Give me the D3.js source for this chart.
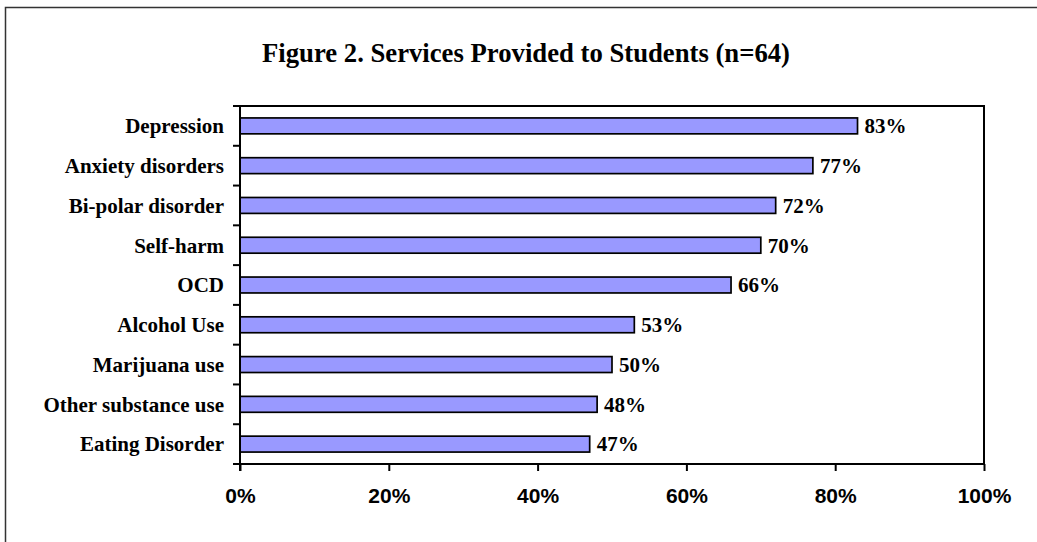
<!DOCTYPE html>
<html>
<head>
<meta charset="utf-8">
<script src="https://cdn.jsdelivr.net/npm/d3@7/dist/d3.min.js"></script>
<style>
  html, body { margin: 0; padding: 0; background: #fff; }
  svg { display: block; }
</style>
</head>
<body>
<svg id="chart" width="1037" height="542"></svg>
<script>
// Services provided to students, share of respondents (n=64)
const categories = [
  "Depression", "Anxiety disorders", "Bi-polar disorder", "Self-harm", "OCD",
  "Alcohol Use", "Marijuana use", "Other substance use", "Eating Disorder"
];
const percentages = [83, 77, 72, 70, 66, 53, 50, 48, 47];
const xTicks = [0, 20, 40, 60, 80, 100];
const chartTitle = "Figure 2. Services Provided to Students (n=64)";

const svg = d3.select("#chart");
const W = 1037, H = 542;
const serif = "'Liberation Serif', 'Times New Roman', serif";
const sans = "'Liberation Sans', Arial, sans-serif";

// Outer frame
svg.append("rect")
  .attr("x", 5.5).attr("y", 7.5)
  .attr("width", W + 20).attr("height", H + 20)
  .attr("fill", "#fff").attr("stroke", "#333").attr("stroke-width", 1.5);

const plot = { left: 240, right: 984, top: 106, bottom: 464 };

const x = d3.scaleLinear().domain([0, 100]).range([plot.left, plot.right]);
const y = d3.scaleBand().domain(categories).range([plot.top, plot.bottom]).paddingInner(0.6).paddingOuter(0.3);
const yEdges = d3.scaleLinear().domain([0, categories.length]).range([plot.top, plot.bottom]);

// Title
svg.append("text")
  .attr("x", 526).attr("y", 62)
  .attr("text-anchor", "middle")
  .attr("font-family", serif)
  .attr("font-weight", "bold").attr("font-size", 26.7)
  .text(chartTitle);

// Bars
svg.append("g").selectAll("rect")
  .data(categories)
  .join("rect")
  .attr("x", x(0))
  .attr("y", d => y(d))
  .attr("width", (d, i) => x(percentages[i]) - x(0))
  .attr("height", y.bandwidth())
  .attr("fill", "#9999FF")
  .attr("stroke", "#000").attr("stroke-width", 1.7);

// Value labels
svg.append("g").selectAll("text")
  .data(categories)
  .join("text")
  .attr("x", (d, i) => x(percentages[i]) + 7)
  .attr("y", d => y(d) + y.bandwidth() / 2)
  .attr("dy", "0.35em")
  .attr("font-family", serif)
  .attr("font-weight", "bold").attr("font-size", 21)
  .text((d, i) => percentages[i] + "%");

// Plot frame (top and right)
svg.append("path")
  .attr("d", `M${plot.left},${plot.top}H${plot.right}V${plot.bottom}`)
  .attr("fill", "none").attr("stroke", "#000").attr("stroke-width", 2);

// X axis
const xAxis = svg.append("g")
  .attr("transform", `translate(0,${plot.bottom})`)
  .call(d3.axisBottom(x).tickValues(xTicks).tickSize(7).tickPadding(0).tickFormat(d => d + "%"));
xAxis.select(".domain").attr("stroke", "#000").attr("stroke-width", 2).attr("d", `M${plot.left},0H${plot.right}`);
xAxis.selectAll(".tick line").attr("stroke", "#000").attr("stroke-width", 2);
xAxis.selectAll(".tick text")
  .attr("y", 39).attr("dy", null)
  .attr("font-family", sans)
  .attr("font-weight", "bold").attr("font-size", 21).attr("fill", "#000");

// Y axis: ticks sit on the category boundaries
const yAxis = svg.append("g").attr("transform", `translate(${plot.left},0)`);
yAxis.append("line")
  .attr("x1", 0).attr("x2", 0).attr("y1", plot.top).attr("y2", plot.bottom + 7)
  .attr("stroke", "#000").attr("stroke-width", 2);
yAxis.selectAll("line.tick")
  .data(d3.range(categories.length + 1))
  .join("line")
  .attr("class", "tick")
  .attr("x1", -7).attr("x2", 0)
  .attr("y1", d => yEdges(d)).attr("y2", d => yEdges(d))
  .attr("stroke", "#000").attr("stroke-width", 2);
yAxis.selectAll("text")
  .data(categories)
  .join("text")
  .attr("x", -16)
  .attr("y", d => y(d) + y.bandwidth() / 2)
  .attr("dy", "0.35em")
  .attr("text-anchor", "end")
  .attr("font-family", serif)
  .attr("font-weight", "bold").attr("font-size", 21)
  .text(d => d);
</script>
</body>
</html>
